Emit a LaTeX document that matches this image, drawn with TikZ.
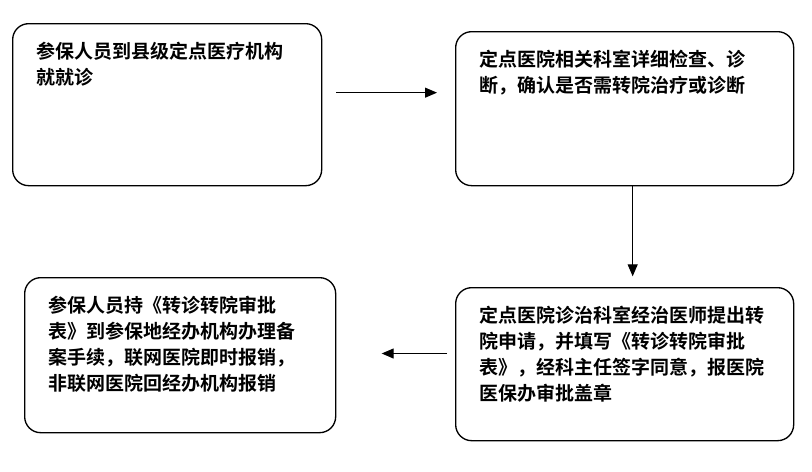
\documentclass[tikz,border=0pt]{standalone}
\usepackage{fontspec}
\newfontfamily\cjk{Noto Sans CJK SC}[BoldFont={* Bold}]
\usetikzlibrary{arrows.meta}

\begin{document}
\begin{tikzpicture}[
  x=0.75pt,y=-0.75pt,
  stage/.style={draw,rectangle,rounded corners=12pt,anchor=north west,align=left,line width=1pt,
    inner xsep=18pt,inner ysep=14pt,text height=12pt,
    font=\cjk\bfseries\fontsize{14.25}{19.5}\selectfont},
  arr/.style={-{Triangle[length=9pt,width=7.5pt]},line width=0.8pt}
]
\useasboundingbox (0,0) rectangle (812,471);

\node[stage,text width=195.75pt,text depth=81.5pt] (visit) at (12,23) {参保人员到县级定点医疗机构\\就就诊};
\node[stage,text width=217.5pt,text depth=75.5pt] (check) at (455,31) {定点医院相关科室详细检查、诊\\断，确认是否需转院治疗或诊断};
\node[stage,text width=217.5pt,text depth=74.75pt] (apply) at (455,287) {定点医院诊治科室经治医师提出转\\院申请，并填写《转诊转院审批\\表》，经科主任签字同意，报医院\\医保办审批盖章};
\node[stage,text width=197.25pt,text depth=76.25pt] (claim) at (24,277) {参保人员持《转诊转院审批\\表》到参保地经办机构办理备\\案手续，联网医院即时报销，\\非联网医院回经办机构报销};

\draw[arr,shorten <=10.5pt,shorten >=13.5pt] ([yshift=9pt]visit.east) -- ([yshift=9pt]visit.east -| check.west);
\draw[arr,shorten >=8pt] ([xshift=6pt]check.south) -- ([xshift=6pt]check.south |- apply.north);
\draw[arr,shorten <=6pt,shorten >=34pt] ([yshift=8pt]apply.west) -- ([yshift=8pt]apply.west -| claim.east);

\end{tikzpicture}
\end{document}
